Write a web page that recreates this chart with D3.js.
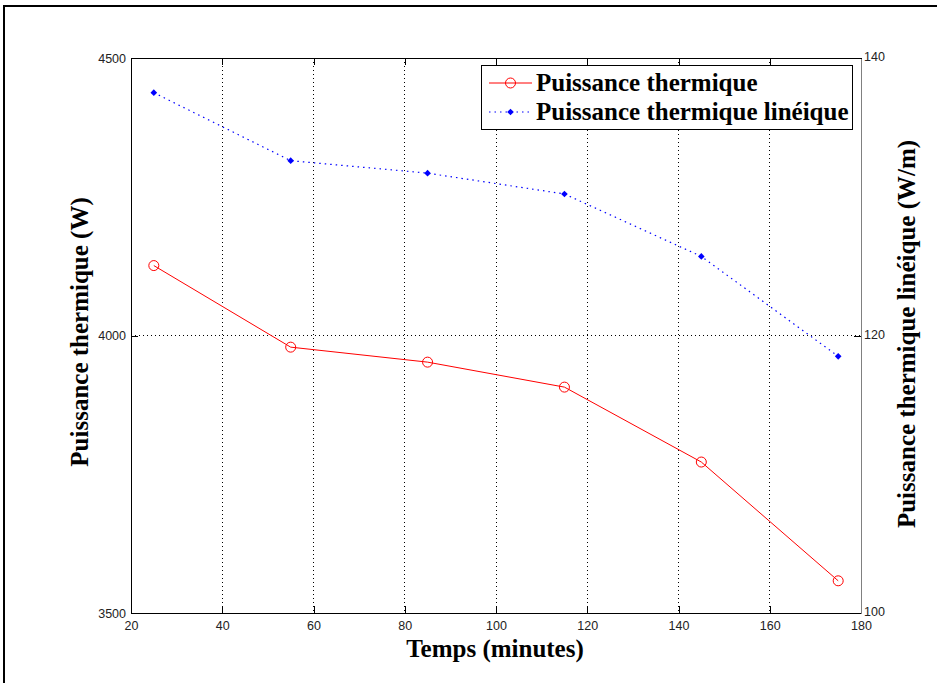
<!DOCTYPE html>
<html>
<head>
<meta charset="utf-8">
<script src="https://cdn.jsdelivr.net/npm/d3@7"></script>
<style>
  body { margin: 0; background: #fff; }
  .tick text { font-family: "Liberation Sans", Arial, sans-serif; font-size: 12.5px; fill: #222; }
  .lbl { font-family: "Liberation Serif", "Times New Roman", serif; font-weight: bold; font-size: 25px; }
</style>
</head>
<body>
<svg id="chart" width="937" height="683"></svg>
<script>
// data
const temps = [25, 55, 85, 115, 145, 175]
const puissance = [4126, 3979, 3952, 3907, 3772, 3558]
const puissanceLin = [137.5, 132.6, 131.7, 130.2, 125.7, 118.5]
const xTicks = [20, 40, 60, 80, 100, 120, 140, 160, 180]
const yLeftTicks = [3500, 4000, 4500]
const yRightTicks = [100, 120, 140]
const legendLabels = ['Puissance thermique', 'Puissance thermique linéique']

const plotLeft = 131, plotRight = 861, plotTop = 58, plotBottom = 613
let svg = d3.select('#chart')

// outer frame
svg.append('rect')
    .attr('x', 4).attr('y', 6)
    .attr('width', 960).attr('height', 700)
    .attr('fill', 'none')
    .attr('stroke', '#000')
    .attr('stroke-width', 2)

let xScale = d3.scaleLinear().domain([20, 180]).range([plotLeft, plotRight])
let yLeft = d3.scaleLinear().domain([3500, 4500]).range([plotBottom, plotTop])
let yRight = d3.scaleLinear().domain([100, 140]).range([plotBottom, plotTop])
let fmt = d3.format('d')

// grid
svg.append('g').selectAll('line')
    .data(xTicks.slice(1, -1))
    .enter().append('line')
    .attr('x1', d => xScale(d)).attr('x2', d => xScale(d))
    .attr('y1', plotTop).attr('y2', plotBottom)
    .attr('stroke', '#000').attr('stroke-dasharray', '1,3')
    .attr('shape-rendering', 'crispEdges')
svg.append('g').selectAll('line')
    .data(yLeftTicks.slice(1, -1))
    .enter().append('line')
    .attr('x1', plotLeft).attr('x2', plotRight)
    .attr('y1', d => yLeft(d)).attr('y2', d => yLeft(d))
    .attr('stroke', '#000').attr('stroke-dasharray', '1,3')
    .attr('shape-rendering', 'crispEdges')

// axes (ticks inward)
svg.append('g')
    .attr('transform', `translate(0, ${plotBottom})`)
    .call(d3.axisBottom(xScale).tickValues(xTicks).tickFormat(fmt)
        .tickSizeInner(-7).tickSizeOuter(0).tickPadding(8))
svg.append('g')
    .attr('transform', `translate(0, ${plotTop})`)
    .call(d3.axisTop(xScale).tickValues(xTicks).tickSizeInner(-7).tickSizeOuter(0).tickFormat(''))
svg.append('g')
    .attr('transform', `translate(${plotLeft}, 0)`)
    .call(d3.axisLeft(yLeft).tickValues(yLeftTicks).tickFormat(fmt)
        .tickSizeInner(-7).tickSizeOuter(0).tickPadding(5))
let rAxis = svg.append('g')
    .attr('transform', `translate(${plotRight}, 0)`)
    .call(d3.axisRight(yRight).tickValues(yRightTicks).tickFormat(fmt)
        .tickSizeInner(-7).tickSizeOuter(0).tickPadding(3))
rAxis.select('.domain').attr('stroke', '#808080').attr('stroke-width', 1.5)
rAxis.selectAll('.tick text').attr('dy', '0.2em')
svg.selectAll('.domain').attr('shape-rendering', 'crispEdges')
svg.selectAll('.tick line').attr('shape-rendering', 'crispEdges')

// series: puissance thermique
let lineLeft = d3.line().x((d, i) => xScale(temps[i])).y(d => yLeft(d))
svg.append('path')
    .datum(puissance)
    .attr('d', lineLeft)
    .attr('fill', 'none').attr('stroke', '#ff0000').attr('stroke-width', 1)
svg.append('g').selectAll('circle')
    .data(puissance)
    .enter().append('circle')
    .attr('cx', (d, i) => xScale(temps[i]))
    .attr('cy', d => yLeft(d))
    .attr('r', 5)
    .attr('fill', 'none').attr('stroke', '#ff0000').attr('stroke-width', 1)

// series: puissance thermique lineique
let lineRight = d3.line().x((d, i) => xScale(temps[i])).y(d => yRight(d))
svg.append('path')
    .datum(puissanceLin)
    .attr('d', lineRight)
    .attr('fill', 'none').attr('stroke', '#0000ff').attr('stroke-width', 1.2)
    .attr('stroke-dasharray', '1.5,4')
svg.append('g').selectAll('path')
    .data(puissanceLin)
    .enter().append('path')
    .attr('transform', (d, i) => `translate(${xScale(temps[i])}, ${yRight(d)})`)
    .attr('d', d3.symbol(d3.symbolDiamond2, 28))
    .attr('fill', '#0000ff')

// axis labels
svg.append('text')
    .attr('class', 'lbl')
    .attr('x', 495).attr('y', 657)
    .attr('text-anchor', 'middle')
    .text('Temps (minutes)')
svg.append('text')
    .attr('class', 'lbl')
    .attr('transform', `translate(88, 332) rotate(-90)`)
    .attr('text-anchor', 'middle')
    .text('Puissance thermique (W)')
svg.append('text')
    .attr('class', 'lbl')
    .attr('transform', `translate(915, 334) rotate(-90)`)
    .attr('text-anchor', 'middle')
    .text('Puissance thermique linéique (W/m)')

// legend
let legend = svg.append('g')
legend.append('rect')
    .attr('x', 481.5).attr('y', 65.5)
    .attr('width', 371).attr('height', 64)
    .attr('fill', '#fff').attr('stroke', '#000').attr('stroke-width', 1)
let rows = [83, 112]
legend.append('line')
    .attr('x1', 489).attr('x2', 532).attr('y1', rows[0]).attr('y2', rows[0])
    .attr('stroke', '#ff0000')
legend.append('circle')
    .attr('cx', 510.5).attr('cy', rows[0]).attr('r', 5)
    .attr('fill', 'none').attr('stroke', '#ff0000')
legend.append('line')
    .attr('x1', 489).attr('x2', 532).attr('y1', rows[1]).attr('y2', rows[1])
    .attr('stroke', '#0000ff').attr('stroke-width', 1.2).attr('stroke-dasharray', '1.5,4')
legend.append('path')
    .attr('transform', `translate(510.5, ${rows[1]})`)
    .attr('d', d3.symbol(d3.symbolDiamond2, 28))
    .attr('fill', '#0000ff')
legend.selectAll('.ltxt')
    .data(legendLabels)
    .enter().append('text')
    .attr('class', 'lbl')
    .attr('x', 536)
    .attr('y', (d, i) => rows[i])
    .attr('dy', '0.33em')
    .text(d => d)
</script>
</body>
</html>
